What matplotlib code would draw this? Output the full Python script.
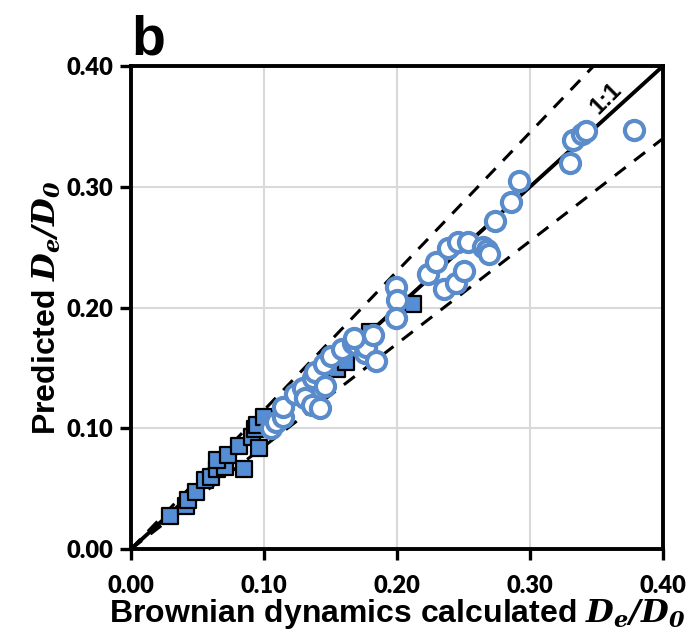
import numpy as np
import matplotlib.pyplot as plt

plt.rcParams["mathtext.fontset"] = "dejavuserif"

# Brownian dynamics (x) vs predicted (y) -- filled squares
sq_bd = [0.029, 0.041, 0.043, 0.049, 0.056, 0.060, 0.065, 0.071, 0.065, 0.073, 0.081,
         0.085, 0.091, 0.093, 0.096, 0.095, 0.100, 0.155, 0.162, 0.180, 0.212]
sq_pred = [0.027, 0.036, 0.041, 0.047, 0.057, 0.060, 0.066, 0.068, 0.074, 0.078, 0.085,
           0.066, 0.093, 0.099, 0.084, 0.103, 0.109, 0.149, 0.155, 0.180, 0.203]

# open circles
ci_bd = [0.105, 0.109, 0.114, 0.114, 0.123, 0.129, 0.131, 0.136, 0.137, 0.138, 0.142,
         0.146, 0.145, 0.150, 0.159, 0.167, 0.170, 0.176, 0.177, 0.182, 0.184, 0.168,
         0.199, 0.200, 0.199, 0.223, 0.229, 0.235, 0.238, 0.244, 0.246, 0.250, 0.253,
         0.265, 0.268, 0.269, 0.274, 0.286, 0.292, 0.330, 0.332, 0.339, 0.342, 0.378]
ci_pred = [0.100, 0.105, 0.109, 0.118, 0.128, 0.133, 0.125, 0.119, 0.142, 0.147, 0.117,
           0.135, 0.153, 0.160, 0.166, 0.171, 0.169, 0.162, 0.167, 0.177, 0.156, 0.175,
           0.217, 0.206, 0.191, 0.228, 0.238, 0.215, 0.249, 0.220, 0.254, 0.230, 0.254,
           0.250, 0.248, 0.244, 0.272, 0.287, 0.305, 0.320, 0.339, 0.344, 0.346, 0.347]

ticks = [0.0, 0.1, 0.2, 0.3, 0.4]
band = 0.15  # +/-15 % envelope

fig = plt.figure(figsize=(6.91, 6.41), dpi=100)
ax = fig.add_axes([0.1896, 0.1435, 0.7699, 0.7535])

xs = np.array([0.0, 0.4])
ax.plot(xs, xs, color="black", lw=2.8, zorder=2, solid_capstyle="butt")
ax.plot(xs, xs * (1 + band), color="black", lw=2.2, dashes=(4.5, 3.5), zorder=2)
ax.plot(xs, xs * (1 - band), color="black", lw=2.2, dashes=(4.5, 3.5), zorder=2)

ax.scatter(sq_bd, sq_pred, marker="s", s=135, facecolor="#558ED5", edgecolor="black",
           linewidth=1.6, zorder=3)
ax.scatter(ci_bd, ci_pred, marker="o", s=190, facecolor="white", edgecolor="#5A8CCB",
           linewidth=3.0, zorder=4)

ax.text(0.357, 0.373, "1:1", rotation=45, fontsize=17, fontweight="bold",
        family="Liberation Sans", ha="center", va="center")

ax.set_xlim(0, 0.4)
ax.set_ylim(0, 0.4)
ax.set_xticks(ticks)
ax.set_yticks(ticks)
ax.set_xticklabels([f"{t:.2f}" for t in ticks])
ax.set_yticklabels([f"{t:.2f}" for t in ticks])
ax.grid(True, color="#D9D9D9", lw=1.5, zorder=0)
ax.set_axisbelow(True)
for sp in ax.spines.values():
    sp.set_linewidth(2.8)
ax.tick_params(direction="out", length=8, width=2.4)
ax.tick_params(axis="x", pad=11)
ax.tick_params(axis="y", pad=5)
for lab in ax.get_xticklabels() + ax.get_yticklabels():
    lab.set_fontsize(17)
    lab.set_fontweight("heavy")
    lab.set_family("Lato")

ax.set_xlabel(r"Brownian dynamics calculated $\mathbfit{D_e/D_0}$", fontsize=23,
              fontweight="bold", family="Liberation Sans", labelpad=0)
ax.set_ylabel(r"Predicted $\mathbfit{D_e/D_0}$", fontsize=23,
              fontweight="bold", family="Liberation Sans", labelpad=2)

fig.text(0.214, 0.937, "b", fontsize=40, fontweight="bold", family="Liberation Sans",
         ha="center", va="center")

fig.savefig("out.png", dpi=100)
